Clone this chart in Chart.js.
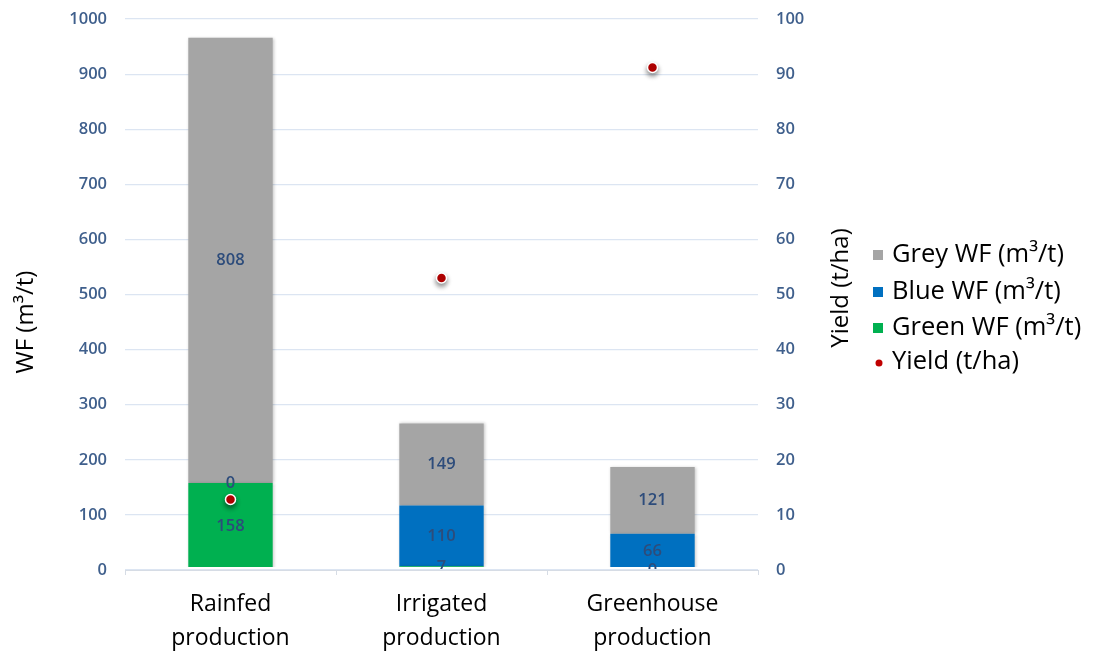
<!DOCTYPE html>
<html>
<head>
<meta charset="utf-8">
<script src="https://cdn.jsdelivr.net/npm/chart.js@4.4.1/dist/chart.umd.min.js"></script>
<style>
  html, body { margin: 0; padding: 0; background: #ffffff; }
  #wrap { width: 1097px; height: 653px; position: relative; }
</style>
</head>
<body>
<div id="wrap"><canvas id="chart" width="1097" height="653"></canvas></div>
<script>
// Production systems on the category axis
const categories = [["Rainfed", "production"], ["Irrigated", "production"], ["Greenhouse", "production"]];

// Water footprint components (m3/t), stacked bottom to top
const greenWF = [158, 7, 0];
const blueWF = [0, 110, 66];
const greyWF = [808, 149, 121];

// Yield (t/ha) on the secondary axis
const yieldValues = [12.8, 53, 91.2];

// Axis ranges and tick steps
const wfTicks = { min: 0, max: 1000, step: 100 };
const yieldTicks = { min: 0, max: 100, step: 10 };

const FONT = "'Open Sans', 'DejaVu Sans', sans-serif";
const TICK_COLOR = '#3F5F8C';
const LABEL_COLOR = '#2D4C7B';
const GRID_COLOR = '#DCE5F2';

// Centered value labels inside each stacked segment, clipped to the plot area
const segmentLabels = {
  id: 'segmentLabels',
  afterDatasetsDraw(chart) {
    const { ctx, chartArea } = chart;
    ctx.save();
    ctx.beginPath();
    ctx.rect(chartArea.left, chartArea.top, chartArea.right - chartArea.left, chartArea.bottom - chartArea.top - 1);
    ctx.clip();
    ctx.font = '600 16.5px ' + FONT;
    ctx.fillStyle = LABEL_COLOR;
    ctx.textAlign = 'center';
    ctx.textBaseline = 'middle';
    chart.data.datasets.forEach((ds, di) => {
      if (ds.type !== 'bar') return;
      const meta = chart.getDatasetMeta(di);
      meta.data.forEach((el, i) => {
        const cy = (el.y + el.base) / 2;
        ctx.fillText(String(ds.data[i]), el.x, cy);
      });
    });
    ctx.restore();
  }
};

// Soft drop shadow under bars and yield markers
const markShadow = {
  id: 'markShadow',
  beforeDatasetDraw(chart, args) {
    const ds = chart.data.datasets[args.index];
    const ctx = chart.ctx;
    ctx.save();
    if (ds.type === 'line') {
      ctx.shadowColor = 'rgba(0,0,0,0.45)';
      ctx.shadowBlur = 5;
      ctx.shadowOffsetX = 0;
      ctx.shadowOffsetY = 3;
    } else {
      ctx.shadowColor = 'rgba(0,0,0,0.22)';
      ctx.shadowBlur = 3;
      ctx.shadowOffsetX = 1;
      ctx.shadowOffsetY = 0;
    }
  },
  afterDatasetDraw(chart) {
    chart.ctx.restore();
  }
};

// Axis titles and the legend box on the right
const sideTexts = {
  id: 'sideTexts',
  afterDraw(chart) {
    const { ctx } = chart;
    ctx.save();
    ctx.fillStyle = '#000000';
    ctx.font = '24px ' + FONT;
    ctx.textAlign = 'center';
    ctx.textBaseline = 'middle';

    ctx.save();
    ctx.translate(26, 322);
    ctx.rotate(-Math.PI / 2);
    ctx.fillText('WF (m³/t)', 0, 0);
    ctx.restore();

    ctx.save();
    ctx.translate(chart.scales.y1.right - 17, 288);
    ctx.rotate(-Math.PI / 2);
    ctx.fillText('Yield (t/ha)', 0, 0);
    ctx.restore();

    const order = [2, 1, 0, 3];
    const rowY = [255, 292, 328, 362];
    ctx.font = '25.5px ' + FONT;
    ctx.textAlign = 'left';
    order.forEach((di, k) => {
      const ds = chart.data.datasets[di];
      const y = rowY[k];
      ctx.fillStyle = ds.backgroundColor;
      if (ds.type === 'line') {
        ctx.beginPath();
        ctx.arc(879, y + 1, 3.5, 0, Math.PI * 2);
        ctx.fill();
      } else {
        ctx.fillRect(873, y - 5, 10, 10);
      }
      ctx.fillStyle = '#000000';
      ctx.fillText(ds.label, 892, y);
    });
    ctx.restore();
  }
};

const barDefaults = {
  barPercentage: 0.8, categoryPercentage: 0.5, yAxisID: 'y', stack: 'wf', order: 2,
  clip: { left: 0, top: 0, right: 0, bottom: -3 }
};

const noPad = (s) => { s.paddingTop = 0; s.paddingBottom = 0; };

new Chart(document.getElementById('chart'), {
  data: {
    labels: categories,
    datasets: [
      Object.assign({ type: 'bar', label: 'Green WF (m³/t)', data: greenWF, backgroundColor: '#00B050' }, barDefaults),
      Object.assign({ type: 'bar', label: 'Blue WF (m³/t)', data: blueWF, backgroundColor: '#0070C0' }, barDefaults),
      Object.assign({ type: 'bar', label: 'Grey WF (m³/t)', data: greyWF, backgroundColor: '#A5A5A5' }, barDefaults),
      {
        type: 'line', label: 'Yield (t/ha)', data: yieldValues, yAxisID: 'y1',
        showLine: false, pointRadius: 5, pointHoverRadius: 5,
        backgroundColor: '#C00000', borderColor: '#FFFFFF', pointBorderWidth: 1.5, order: 1
      }
    ]
  },
  options: {
    responsive: false,
    animation: false,
    events: [],
    layout: { padding: { top: 19, right: 239, bottom: 0, left: 0 } },
    plugins: { legend: { display: false }, tooltip: { enabled: false } },
    scales: {
      x: {
        stacked: true,
        offset: true,
        grid: { offset: true, drawOnChartArea: false, color: '#D6DCE5', tickLength: 5 },
        border: { color: '#D6DCE5' },
        ticks: { color: '#000000', font: { family: FONT, size: 23, lineHeight: 1.45 }, padding: 13, maxRotation: 0 },
        afterFit(s) { s.height = 83; }
      },
      y: {
        stacked: true,
        position: 'left',
        min: wfTicks.min, max: wfTicks.max,
        grid: { color: GRID_COLOR, drawTicks: false, lineWidth: 1.2 },
        border: { display: false },
        ticks: {
          stepSize: wfTicks.step, color: TICK_COLOR, font: { family: FONT, size: 16.5, weight: '600' }, padding: 18,
          callback: (v) => String(v)
        },
        afterFit(s) { s.width = 125; noPad(s); }
      },
      y1: {
        position: 'right',
        min: yieldTicks.min, max: yieldTicks.max,
        grid: { display: false, drawTicks: false },
        border: { display: false },
        ticks: {
          stepSize: yieldTicks.step, color: TICK_COLOR, font: { family: FONT, size: 16.5, weight: '600' }, padding: 18,
          callback: (v) => String(v)
        },
        afterFit(s) { s.width = 100; noPad(s); }
      }
    }
  },
  plugins: [markShadow, segmentLabels, sideTexts]
});
</script>
</body>
</html>
